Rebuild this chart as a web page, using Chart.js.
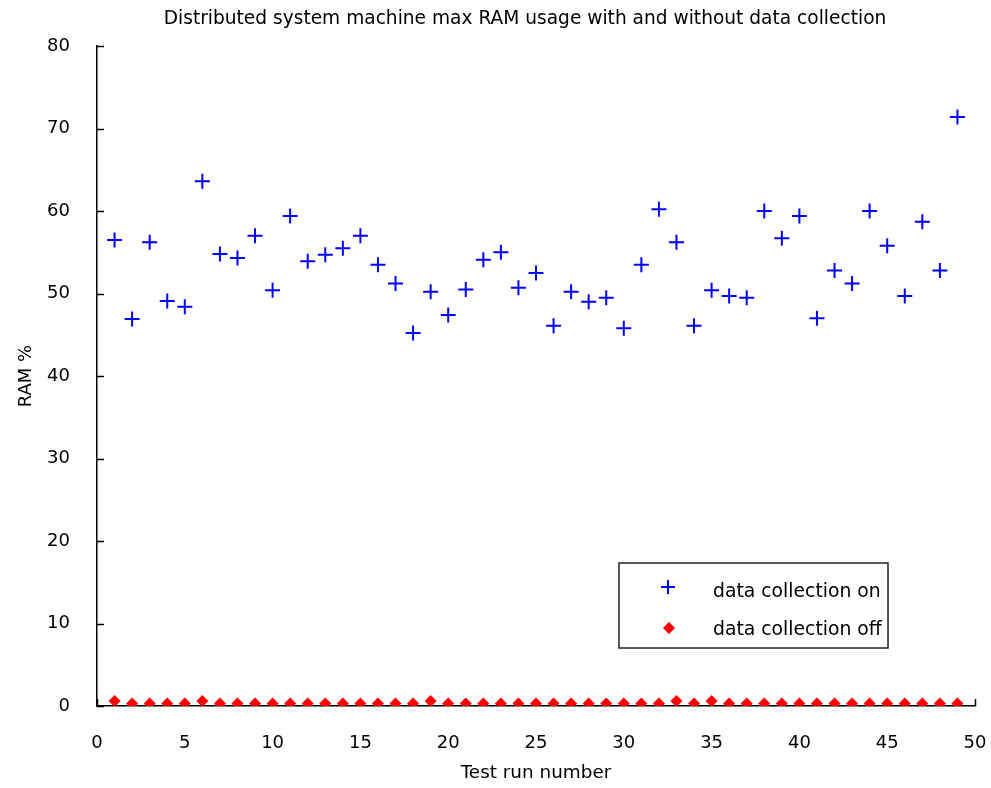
<!DOCTYPE html>
<html>
<head>
<meta charset="utf-8">
<script src="https://cdn.jsdelivr.net/npm/chart.js@4.4.1/dist/chart.umd.min.js"></script>
<style>
  body { margin: 0; background: #fff; }
  #wrap { width: 991px; height: 788px; }
</style>
</head>
<body>
<div id="wrap"><canvas id="ramChart" width="991" height="788"></canvas></div>
<script>
const runs = [];
for (let i = 1; i <= 49; i++) runs.push(i);

const ramOn = [
  56.5, 46.9, 56.2, 49.1, 48.4, 63.6, 54.8, 54.3, 57.0, 50.4,
  59.4, 53.9, 54.7, 55.5, 57.0, 53.5, 51.2, 45.2, 50.2, 47.4,
  50.5, 54.1, 55.0, 50.7, 52.5, 46.1, 50.2, 49.0, 49.5, 45.8,
  53.5, 60.2, 56.2, 46.1, 50.4, 49.7, 49.5, 60.0, 56.7, 59.4,
  47.0, 52.8, 51.2, 60.0, 55.8, 49.7, 58.7, 52.8, 71.4
];

const ramOff = [
  0.6, 0.3, 0.3, 0.3, 0.3, 0.6, 0.3, 0.3, 0.3, 0.3,
  0.3, 0.3, 0.3, 0.3, 0.3, 0.3, 0.3, 0.3, 0.6, 0.3,
  0.3, 0.3, 0.3, 0.3, 0.3, 0.3, 0.3, 0.3, 0.3, 0.3,
  0.3, 0.3, 0.6, 0.3, 0.6, 0.3, 0.3, 0.3, 0.3, 0.3,
  0.3, 0.3, 0.3, 0.3, 0.3, 0.3, 0.3, 0.3, 0.3
];

const xTicks = [0, 5, 10, 15, 20, 25, 30, 35, 40, 45, 50];
const yTicks = [0, 10, 20, 30, 40, 50, 60, 70, 80];
const seriesNames = ['data collection on', 'data collection off'];
const chartTitle = 'Distributed system machine max RAM usage with and without data collection';

const fontFamily = '"DejaVu Sans", sans-serif';

// matlab style: ticks pointing into the plot, title, legend box inside the axes
const matlabAxes = {
  id: 'matlabAxes',
  beforeDatasetsDraw(chart) {
    const ctx = chart.ctx;
    const a = chart.chartArea;
    const xs = chart.scales.x, ys = chart.scales.y;
    ctx.save();
    ctx.strokeStyle = '#000';
    ctx.lineWidth = 1.5;
    ctx.beginPath();
    xTicks.forEach(v => {
      const px = Math.round(xs.getPixelForValue(v)) + 0.5;
      ctx.moveTo(px, a.bottom);
      ctx.lineTo(px, a.bottom - 7);
    });
    yTicks.forEach(v => {
      const py = Math.round(ys.getPixelForValue(v)) + 0.5;
      ctx.moveTo(a.left, py);
      ctx.lineTo(a.left + 7, py);
    });
    ctx.stroke();
    ctx.restore();
  },
  afterDraw(chart) {
    const ctx = chart.ctx;
    ctx.save();
    ctx.fillStyle = '#000';
    ctx.font = '18.6px ' + fontFamily;
    ctx.textAlign = 'center';
    ctx.textBaseline = 'middle';
    ctx.fillText(chartTitle, 525, 19);

    // legend
    const lx = 619, ly = 563, lw = 269, lh = 85;
    ctx.fillStyle = '#fff';
    ctx.fillRect(lx, ly, lw, lh);
    ctx.strokeStyle = '#222';
    ctx.lineWidth = 1.5;
    ctx.strokeRect(lx, ly, lw, lh);

    ctx.fillStyle = '#000';
    ctx.font = '18.8px ' + fontFamily;
    ctx.textAlign = 'left';
    ctx.fillText(seriesNames[0], 713, 592);
    ctx.fillText(seriesNames[1], 713, 630);

    ctx.strokeStyle = '#0000ff';
    ctx.lineWidth = 2;
    ctx.beginPath();
    ctx.moveTo(661, 587); ctx.lineTo(675, 587);
    ctx.moveTo(668, 580); ctx.lineTo(668, 594);
    ctx.stroke();

    ctx.fillStyle = '#ff0000';
    ctx.beginPath();
    ctx.moveTo(669, 622); ctx.lineTo(675, 628); ctx.lineTo(669, 634); ctx.lineTo(663, 628);
    ctx.closePath();
    ctx.fill();
    ctx.restore();
  }
};

const ctx = document.getElementById('ramChart').getContext('2d');
const ramChart = new Chart(ctx, {
  type: 'scatter',
  data: {
    datasets: [{
      label: seriesNames[0],
      data: runs.map((r, i) => ({ x: r, y: ramOn[i] })),
      pointStyle: 'cross',
      pointRadius: 7.5,
      pointHoverRadius: 7.5,
      borderColor: '#0000ff',
      backgroundColor: '#0000ff',
      borderWidth: 2
    }, {
      label: seriesNames[1],
      data: runs.map((r, i) => ({ x: r, y: ramOff[i] })),
      pointStyle: 'rectRot',
      pointRadius: 6,
      pointHoverRadius: 6,
      borderColor: '#ff0000',
      backgroundColor: '#ff0000',
      borderWidth: 0
    }]
  },
  options: {
    responsive: false,
    animation: false,
    layout: { padding: { left: 0, right: 16, top: 46, bottom: 0 } },
    plugins: {
      legend: { display: false },
      tooltip: { enabled: false },
      title: { display: false }
    },
    scales: {
      x: {
        type: 'linear',
        min: 0, max: 50,
        afterBuildTicks: s => { s.ticks = xTicks.map(v => ({ value: v })); },
        afterFit: s => { s.height = 82; s.paddingLeft = 0; s.paddingRight = 0; },
        grid: { display: true, drawOnChartArea: false, drawTicks: false },
        border: { display: true, color: '#000', width: 1.5 },
        ticks: { color: '#000', padding: 27, font: { family: fontFamily, size: 18 } },
        title: {
          display: true, text: 'Test run number', color: '#000',
          font: { family: fontFamily, size: 18.4 }, padding: { top: 8 }
        }
      },
      y: {
        type: 'linear',
        min: 0, max: 80,
        afterBuildTicks: s => { s.ticks = yTicks.map(v => ({ value: v })); },
        afterFit: s => { s.width = 97; s.paddingTop = 0; s.paddingBottom = 0; },
        grid: { display: true, drawOnChartArea: false, drawTicks: false },
        border: { display: true, color: '#000', width: 1.5 },
        ticks: { color: '#000', padding: 27, font: { family: fontFamily, size: 18 } },
        title: {
          display: true, text: 'RAM %', color: '#000',
          font: { family: fontFamily, size: 18 }, padding: { top: 16, bottom: 0 }
        }
      }
    }
  },
  plugins: [matlabAxes]
});
</script>
</body>
</html>
